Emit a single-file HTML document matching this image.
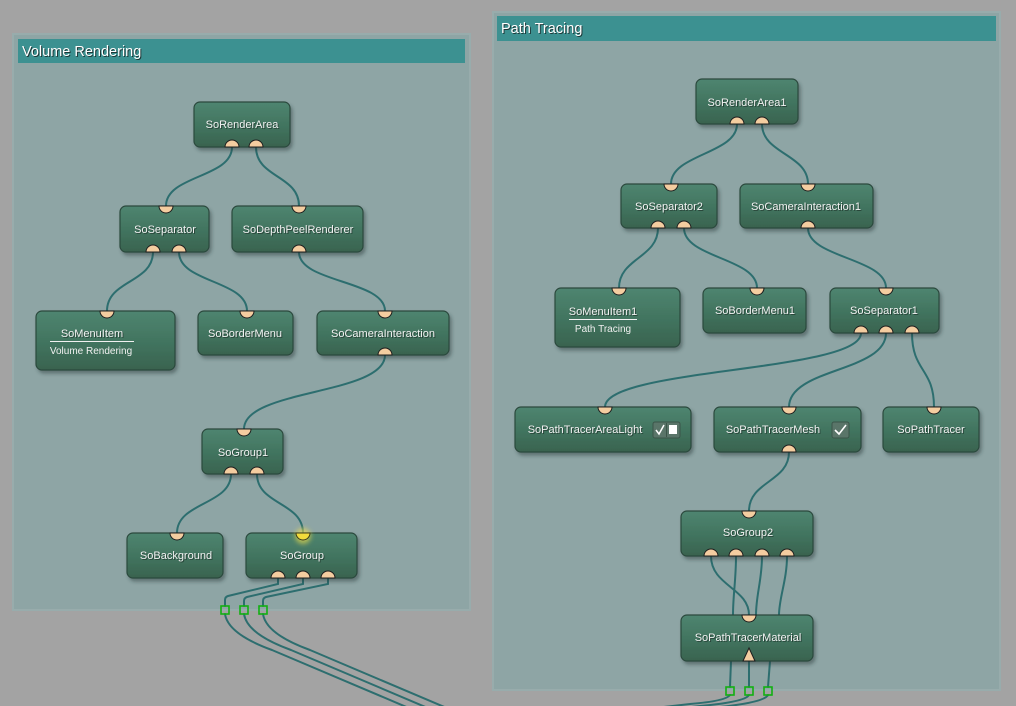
<!DOCTYPE html>
<html><head><meta charset="utf-8"><style>
html,body{margin:0;padding:0;background:#a3a3a3;}
svg{display:block;}
text{font-family:"Liberation Sans",Arial,sans-serif;}
</style></head><body>
<svg width="1016" height="706" viewBox="0 0 1016 706" xmlns="http://www.w3.org/2000/svg">
<defs>
<linearGradient id="ng" x1="0" y1="0" x2="0" y2="1">
<stop offset="0" stop-color="#4f8570"/><stop offset="0.5" stop-color="#427560"/><stop offset="1" stop-color="#39634f"/>
</linearGradient>
<filter id="sh" x="-10%" y="-10%" width="130%" height="140%">
<feDropShadow dx="2" dy="3" stdDeviation="1.8" flood-color="#203030" flood-opacity="0.45"/>
</filter>
<filter id="glow" x="-100%" y="-100%" width="300%" height="300%">
<feGaussianBlur stdDeviation="2.5"/>
</filter>
</defs>
<rect width="1016" height="706" fill="#a3a3a3"/>

<!-- Panels -->
<rect x="13" y="34" width="457" height="576" fill="#8ea5a5" stroke="#98acac" stroke-width="2"/>
<rect x="18" y="39" width="447" height="24" fill="#3c9191"/>
<text x="23" y="57" font-size="14.5" fill="#111" opacity="0.7">Volume Rendering</text>
<text x="22" y="56" font-size="14.5" fill="#ffffff">Volume Rendering</text>

<rect x="493" y="12" width="507" height="678" fill="#8ea5a5" stroke="#98acac" stroke-width="2"/>
<rect x="497" y="16" width="499" height="25" fill="#3c9191"/>
<text x="502" y="34" font-size="14.5" fill="#111" opacity="0.7">Path Tracing</text>
<text x="501" y="33" font-size="14.5" fill="#ffffff">Path Tracing</text>

<!-- Connectors -->
<g fill="none" stroke="#2d6e6f" stroke-width="2" stroke-linecap="round">
<!-- left -->
<path d="M232,147 C232,178 166,175 166,206"/>
<path d="M256,147 C256,178 299,175 299,206"/>
<path d="M153,252 C153,283 107,280 107,311"/>
<path d="M179,252 C179,283 247,280 247,311"/>
<path d="M299,252 C299,283 385,280 385,311"/>
<path d="M385,355 C385,395 244,389 244,429"/>
<path d="M231,474 C231,505 177,502 177,533"/>
<path d="M257,474 C257,505 303,502 303,533"/>
<path d="M278,578 V584 L228,596 Q225,597 225,600 V606"/>
<path d="M303,578 V584 L247,597 Q244,598 244,601 V606"/>
<path d="M328,578 V584 L266,597 Q263,598 263,601 V606"/>
<path d="M225,614 Q228,634 272,650 L430,717"/>
<path d="M244,614 Q247,634 291,650 L449,717"/>
<path d="M263,614 Q266,634 310,650 L468,717"/>
<!-- right -->
<path d="M737,124 C737,154 671,154 671,184"/>
<path d="M762,124 C762,154 808,154 808,184"/>
<path d="M658,228 C658,258 619,258 619,288"/>
<path d="M684,228 C684,258 757,258 757,288"/>
<path d="M808,228 C808,258 886,258 886,288"/>
<path d="M861,333 C861,372 605,368 605,407"/>
<path d="M886,333 C886,372 789,368 789,407"/>
<path d="M912,333 C912,372 934,368 934,407"/>
<path d="M789,452 C789,482 749,481 749,511"/>
<path d="M711,556 C711,586 749,588 749,615"/>
<path d="M736,556 C736,580 733,595 733,615"/>
<path d="M762,556 C762,580 756,595 756,615"/>
<path d="M787,556 C787,580 779,598 779,615"/>
<path d="M731,661 L730,687"/>
<path d="M749,661 L749,687"/>
<path d="M770,661 L768,687"/>
<path d="M730,695 Q726,701 690,704 L620,712"/>
<path d="M749,695 Q745,702 700,706 L640,713"/>
<path d="M768,695 Q764,703 710,708 L660,714"/>
</g>

<!-- Green squares -->
<g fill="none" stroke="#11b011" stroke-width="1.6">
<rect x="221" y="606" width="8" height="8"/>
<rect x="240" y="606" width="8" height="8"/>
<rect x="259" y="606" width="8" height="8"/>
<rect x="726" y="687" width="8" height="8"/>
<rect x="745" y="687" width="8" height="8"/>
<rect x="764" y="687" width="8" height="8"/>
</g>

<!-- Nodes -->
<g stroke="#2c4a3e" stroke-width="1.2" fill="url(#ng)" filter="url(#sh)">
<rect x="194" y="102" width="96" height="45" rx="6"/>
<rect x="120" y="206" width="89" height="46" rx="6"/>
<rect x="232" y="206" width="131" height="46" rx="6"/>
<rect x="36" y="311" width="139" height="59" rx="6"/>
<rect x="198" y="311" width="95" height="44" rx="6"/>
<rect x="317" y="311" width="132" height="44" rx="6"/>
<rect x="202" y="429" width="81" height="45" rx="6"/>
<rect x="127" y="533" width="96" height="45" rx="6"/>
<rect x="246" y="533" width="111" height="45" rx="6"/>

<rect x="696" y="79" width="102" height="45" rx="6"/>
<rect x="621" y="184" width="96" height="44" rx="6"/>
<rect x="740" y="184" width="133" height="44" rx="6"/>
<rect x="555" y="288" width="125" height="59" rx="6"/>
<rect x="703" y="288" width="103" height="45" rx="6"/>
<rect x="830" y="288" width="109" height="45" rx="6"/>
<rect x="515" y="407" width="176" height="45" rx="6"/>
<rect x="714" y="407" width="147" height="45" rx="6"/>
<rect x="883" y="407" width="96" height="45" rx="6"/>
<rect x="681" y="511" width="132" height="45" rx="6"/>
<rect x="681" y="615" width="132" height="46" rx="6"/>
</g>

<!-- Node labels -->
<g font-size="11" text-anchor="middle">
<g fill="#1b2b24" opacity="0.65" transform="translate(1,1)">
<text x="242" y="128">SoRenderArea</text>
<text x="165" y="233">SoSeparator</text>
<text x="298" y="233">SoDepthPeelRenderer</text>
<text x="92" y="337">SoMenuItem</text>
<text x="245" y="337">SoBorderMenu</text>
<text x="383" y="337">SoCameraInteraction</text>
<text x="243" y="456">SoGroup1</text>
<text x="176" y="559">SoBackground</text>
<text x="302" y="559">SoGroup</text>
<text x="747" y="106">SoRenderArea1</text>
<text x="669" y="210">SoSeparator2</text>
<text x="806" y="210">SoCameraInteraction1</text>
<text x="603" y="315">SoMenuItem1</text>
<text x="755" y="314">SoBorderMenu1</text>
<text x="884" y="314">SoSeparator1</text>
<text x="585" y="433">SoPathTracerAreaLight</text>
<text x="773" y="433">SoPathTracerMesh</text>
<text x="931" y="433">SoPathTracer</text>
<text x="748" y="536">SoGroup2</text>
<text x="748" y="641">SoPathTracerMaterial</text>
</g>
<g fill="#f2f2f2">
<text x="242" y="128">SoRenderArea</text>
<text x="165" y="233">SoSeparator</text>
<text x="298" y="233">SoDepthPeelRenderer</text>
<text x="92" y="337">SoMenuItem</text>
<text x="245" y="337">SoBorderMenu</text>
<text x="383" y="337">SoCameraInteraction</text>
<text x="243" y="456">SoGroup1</text>
<text x="176" y="559">SoBackground</text>
<text x="302" y="559">SoGroup</text>
<text x="747" y="106">SoRenderArea1</text>
<text x="669" y="210">SoSeparator2</text>
<text x="806" y="210">SoCameraInteraction1</text>
<text x="603" y="315">SoMenuItem1</text>
<text x="755" y="314">SoBorderMenu1</text>
<text x="884" y="314">SoSeparator1</text>
<text x="585" y="433">SoPathTracerAreaLight</text>
<text x="773" y="433">SoPathTracerMesh</text>
<text x="931" y="433">SoPathTracer</text>
<text x="748" y="536">SoGroup2</text>
<text x="748" y="641">SoPathTracerMaterial</text>
</g>
</g>
<g font-size="10" text-anchor="middle" fill="#f0f0f0">
<text x="91" y="354">Volume Rendering</text>
<text x="603" y="332">Path Tracing</text>
</g>
<line x1="50" y1="341.5" x2="134" y2="341.5" stroke="#f0f0f0" stroke-width="1"/>
<line x1="569" y1="319.5" x2="637" y2="319.5" stroke="#f0f0f0" stroke-width="1"/>

<!-- Checkboxes -->
<g>
<rect x="653" y="422" width="27" height="16" rx="2" fill="#5a7569" stroke="#3b5549" stroke-width="1"/>
<line x1="666.5" y1="423" x2="666.5" y2="437" stroke="#3b5549"/>
<path d="M656,430 L659,434 L664,425" fill="none" stroke="#ffffff" stroke-width="1.5"/>
<rect x="669" y="425" width="8" height="9" fill="#ffffff"/>
<rect x="832" y="422" width="17" height="16" rx="2" fill="#5a7569" stroke="#3b5549" stroke-width="1"/>
<path d="M835,430 L839,434 L846,425" fill="none" stroke="#ffffff" stroke-width="1.6"/>
</g>

<!-- Ports -->
<g fill="#f4cda0" stroke="#1e1e1e" stroke-width="1">
<!-- bottom ports (dome up) -->
<path d="M225,147 A7,7 0 0 1 239,147 Z"/>
<path d="M249,147 A7,7 0 0 1 263,147 Z"/>
<path d="M146,252 A7,7 0 0 1 160,252 Z"/>
<path d="M172,252 A7,7 0 0 1 186,252 Z"/>
<path d="M292,252 A7,7 0 0 1 306,252 Z"/>
<path d="M378,355 A7,7 0 0 1 392,355 Z"/>
<path d="M224,474 A7,7 0 0 1 238,474 Z"/>
<path d="M250,474 A7,7 0 0 1 264,474 Z"/>
<path d="M271,578 A7,7 0 0 1 285,578 Z"/>
<path d="M296,578 A7,7 0 0 1 310,578 Z"/>
<path d="M321,578 A7,7 0 0 1 335,578 Z"/>
<path d="M730,124 A7,7 0 0 1 744,124 Z"/>
<path d="M755,124 A7,7 0 0 1 769,124 Z"/>
<path d="M651,228 A7,7 0 0 1 665,228 Z"/>
<path d="M677,228 A7,7 0 0 1 691,228 Z"/>
<path d="M801,228 A7,7 0 0 1 815,228 Z"/>
<path d="M854,333 A7,7 0 0 1 868,333 Z"/>
<path d="M879,333 A7,7 0 0 1 893,333 Z"/>
<path d="M905,333 A7,7 0 0 1 919,333 Z"/>
<path d="M782,452 A7,7 0 0 1 796,452 Z"/>
<path d="M704,556 A7,7 0 0 1 718,556 Z"/>
<path d="M729,556 A7,7 0 0 1 743,556 Z"/>
<path d="M755,556 A7,7 0 0 1 769,556 Z"/>
<path d="M780,556 A7,7 0 0 1 794,556 Z"/>
<!-- top ports (dome down) -->
<path d="M159,206 A7,7 0 0 0 173,206 Z"/>
<path d="M292,206 A7,7 0 0 0 306,206 Z"/>
<path d="M100,311 A7,7 0 0 0 114,311 Z"/>
<path d="M240,311 A7,7 0 0 0 254,311 Z"/>
<path d="M378,311 A7,7 0 0 0 392,311 Z"/>
<path d="M237,429 A7,7 0 0 0 251,429 Z"/>
<path d="M170,533 A7,7 0 0 0 184,533 Z"/>
<path d="M664,184 A7,7 0 0 0 678,184 Z"/>
<path d="M801,184 A7,7 0 0 0 815,184 Z"/>
<path d="M612,288 A7,7 0 0 0 626,288 Z"/>
<path d="M750,288 A7,7 0 0 0 764,288 Z"/>
<path d="M879,288 A7,7 0 0 0 893,288 Z"/>
<path d="M598,407 A7,7 0 0 0 612,407 Z"/>
<path d="M782,407 A7,7 0 0 0 796,407 Z"/>
<path d="M927,407 A7,7 0 0 0 941,407 Z"/>
<path d="M742,511 A7,7 0 0 0 756,511 Z"/>
<path d="M742,615 A7,7 0 0 0 756,615 Z"/>
<!-- triangle -->
<path d="M743,661 L749,648 L755,661 Z"/>
</g>
<!-- yellow highlighted port -->
<circle cx="303" cy="536" r="8" fill="#f6e24a" opacity="0.6" filter="url(#glow)"/>
<path d="M296,533 A7,7 0 0 0 310,533 Z" fill="#f2dc3c" stroke="#3a3a1a" stroke-width="1"/>
</svg>
</body></html>
